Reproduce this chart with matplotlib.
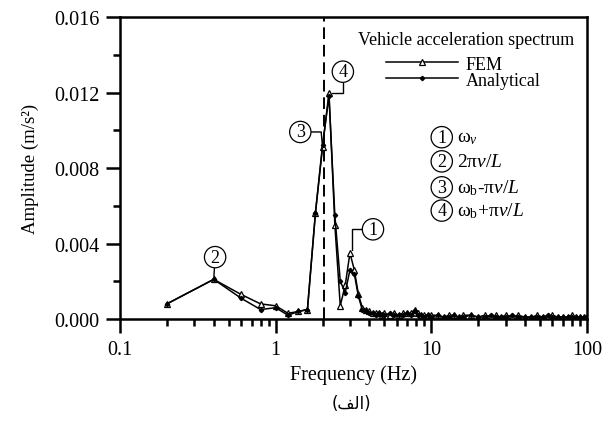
import matplotlib
matplotlib.use('Agg')
import matplotlib.pyplot as plt
from matplotlib.ticker import FixedLocator, LogLocator, NullFormatter, FormatStrFormatter

plt.rcParams['font.family'] = ['Liberation Serif', 'DejaVu Sans']
plt.rcParams['mathtext.fontset'] = 'custom'
plt.rcParams['mathtext.rm'] = 'Liberation Serif'
plt.rcParams['mathtext.it'] = 'Liberation Serif:italic'

# spectrum values
freq = [0.2, 0.4, 0.6, 0.8, 1.0, 1.2, 1.4, 1.6, 1.8, 2.0, 2.2, 2.4, 2.6, 2.8,
        3.0, 3.2, 3.4, 3.6, 3.8, 4.0, 4.2, 4.4, 4.6, 4.8, 5.0, 5.4, 5.8, 6.2,
        6.6, 7.0, 7.4, 7.8, 8.2, 8.6, 9.0, 9.5, 10, 11, 12, 13, 14, 15, 16,
        18, 20, 22, 24, 26, 28, 30, 33, 36, 40, 44, 48, 52, 56, 60, 65, 70,
        75, 80, 85, 90, 95, 100]
amp_fem = [0.0008, 0.0021, 0.0013, 0.0008, 0.0007, 0.0003, 0.0004, 0.0005,
           0.0056, 0.0091, 0.0120, 0.0050, 0.0007, 0.0018, 0.0035, 0.0026,
           0.0013, 0.0006, 0.0005, 0.0004, 0.0003, 0.0003, 0.0003, 0.0002,
           0.0003, 0.0002, 0.0003, 0.0002, 0.0003, 0.0003, 0.0003, 0.0005,
           0.0003, 0.0002, 0.0002, 0.0002, 0.0002, 0.0002, 0.0001, 0.0002,
           0.0002, 0.0001, 0.0002, 0.0002, 0.0001, 0.0002, 0.0001, 0.0002,
           0.0001, 0.0002, 0.0001, 0.0002, 0.0001, 0.0001, 0.0002, 0.0001,
           0.0001, 0.0002, 0.0001, 0.0001, 0.0001, 0.0002, 0.0001, 0.0001,
           0.0001, 0.0001]
amp_analytical = [0.0008, 0.0021, 0.0011, 0.0005, 0.0006, 0.0002, 0.0004, 0.0005,
                  0.0056, 0.0092, 0.0118, 0.0055, 0.0020, 0.0014, 0.0026, 0.0024,
                  0.0012, 0.0005, 0.0004, 0.0003, 0.0003, 0.0002, 0.0003, 0.0002,
                  0.0002, 0.0003, 0.0002, 0.0002, 0.0002, 0.0003, 0.0002, 0.0004,
                  0.0002, 0.0002, 0.0001, 0.0002, 0.0001, 0.0002, 0.0001, 0.0001,
                  0.0002, 0.0001, 0.0001, 0.0002, 0.0001, 0.0001, 0.0002, 0.0001,
                  0.0001, 0.0001, 0.0002, 0.0001, 0.0001, 0.0001, 0.0001, 0.0001,
                  0.0002, 0.0001, 0.0001, 0.0001, 0.0001, 0.0001, 0.0001, 0.0001,
                  0.0001, 0.0001]
f_dashed = 2.05

# circled peak labels: number, freq, amplitude, text offset (pt), connection
peak_labels = [
    ('1', 3.1, 0.0035, (15, 17), 'angle,angleA=0,angleB=90,rad=0'),
    ('2', 0.4, 0.0021, (1, 16), 'arc3'),
    ('3', 2.0, 0.0091, (-16, 11), 'angle,angleA=0,angleB=95,rad=0'),
    ('4', 2.2, 0.0120, (10, 15), 'angle,angleA=90,angleB=0,rad=0'),
]
key_numbers = ['1', '2', '3', '4']
key_texts = ['ω$_v$', '2π$v$/$L$', 'ω$_\\mathrm{b}$-π$v$/$L$', 'ω$_\\mathrm{b}$+π$v$/$L$']

y_ticks = [0.000, 0.004, 0.008, 0.012, 0.016]
x_ticks = [0.1, 1, 10, 100]
x_ticklabels = ['0.1', '1', '10', '100']

fig = plt.figure(figsize=(6.11, 4.27), dpi=100)
ax = fig.add_axes([0.1964, 0.2506, 0.7643, 0.7072])

ax.plot(freq, amp_fem, color='black', lw=1.1, marker='^', ms=4.5,
        mfc='white', mec='black', mew=0.9, label='FEM')
ax.plot(freq, amp_analytical, color='black', lw=1.1, marker='D', ms=2.2,
        label='Analytical')
ax.axvline(f_dashed, color='black', lw=1.4, ls=(0, (6, 3)))

ax.set_xscale('log')
ax.set_xlim(0.1, 100)
ax.set_ylim(0, 0.016)
ax.xaxis.set_major_locator(FixedLocator(x_ticks))
ax.set_xticklabels(x_ticklabels)
ax.xaxis.set_minor_locator(LogLocator(base=10, subs=range(2, 10)))
ax.xaxis.set_minor_formatter(NullFormatter())
ax.set_yticks(y_ticks)
ax.yaxis.set_major_formatter(FormatStrFormatter('%.3f'))
ax.yaxis.set_minor_locator(FixedLocator([0.002, 0.006, 0.010, 0.014]))

for s in ax.spines.values():
    s.set_linewidth(1.8)
ax.tick_params(which='both', direction='out', top=False, right=False,
               width=1.8, labelsize=14.5, color='black')
ax.tick_params(which='major', length=10, pad=5)
ax.tick_params(which='minor', length=5)

ax.set_xlabel('Frequency (Hz)', fontsize=14.5, labelpad=4)
ax.set_ylabel('Amplitude (m/s²)', fontsize=13.5, labelpad=11)

ax.text(0.741, 0.925, 'Vehicle acceleration spectrum', transform=ax.transAxes,
        ha='center', va='center', fontsize=13)
ax.legend(loc='upper left', bbox_to_anchor=(0.57, 0.872), frameon=False,
          fontsize=13, handlelength=4, handletextpad=0.4, labelspacing=-0.05,
          borderpad=0, borderaxespad=0, numpoints=1)

for num, f, a, off, conn in peak_labels:
    ax.annotate(num, xy=(f, a), xytext=off, textcoords='offset points',
                ha='center', va='center', fontsize=13,
                bbox=dict(boxstyle='circle,pad=0.12', fc='white', ec='black', lw=0.9),
                arrowprops=dict(arrowstyle='-', color='black', lw=1.0,
                                connectionstyle=conn, shrinkA=0, shrinkB=2))

key_y = [0.602, 0.522, 0.436, 0.359]
for num, txt, y in zip(key_numbers, key_texts, key_y):
    ax.text(0.689, y, num, transform=ax.transAxes, ha='center', va='center',
            fontsize=13, bbox=dict(boxstyle='circle,pad=0.12', fc='white',
                                   ec='black', lw=0.9))
    ax.text(0.722, y, txt, transform=ax.transAxes, ha='left', va='center',
            fontsize=14)

fig.text(0.576, 0.055, '(\ufed2\ufedf\ufe8d)', family=['DejaVu Sans'],
         ha='center', va='center', fontsize=12)

fig.savefig('out.png', dpi=100)
